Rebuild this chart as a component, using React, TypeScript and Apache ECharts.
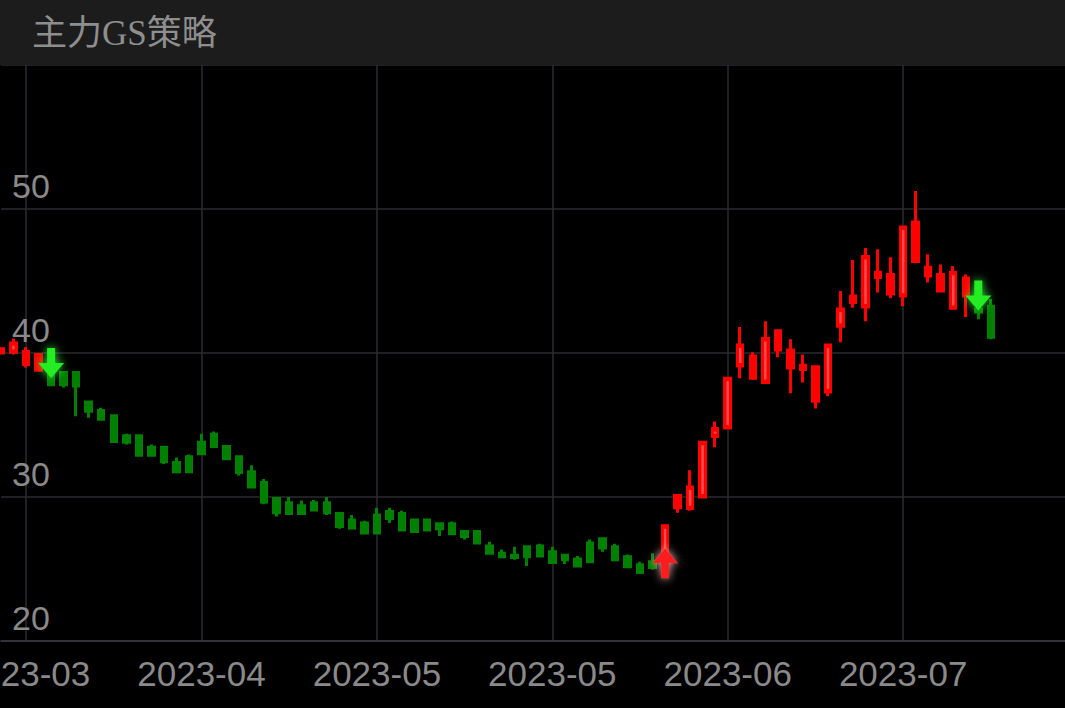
import React, { useEffect, useRef } from 'react';
import * as echarts from 'echarts';

const titleText = '主力GS策略';

const dates = [
  '2023-03-17', '2023-03-20', '2023-03-21', '2023-03-22', '2023-03-23', '2023-03-24', '2023-03-27', '2023-03-28',
  '2023-03-29', '2023-03-30', '2023-03-31', '2023-04-03', '2023-04-04', '2023-04-06', '2023-04-07', '2023-04-10',
  '2023-04-11', '2023-04-12', '2023-04-13', '2023-04-14', '2023-04-17', '2023-04-18', '2023-04-19', '2023-04-20',
  '2023-04-21', '2023-04-24', '2023-04-25', '2023-04-26', '2023-04-27', '2023-04-28', '2023-05-04', '2023-05-05',
  '2023-05-08', '2023-05-09', '2023-05-10', '2023-05-11', '2023-05-12', '2023-05-15', '2023-05-16', '2023-05-17',
  '2023-05-18', '2023-05-19', '2023-05-22', '2023-05-23', '2023-05-24', '2023-05-25', '2023-05-26', '2023-05-29',
  '2023-05-30', '2023-05-31', '2023-06-01', '2023-06-02', '2023-06-05', '2023-06-06', '2023-06-07', '2023-06-08',
  '2023-06-09', '2023-06-12', '2023-06-13', '2023-06-14', '2023-06-15', '2023-06-16', '2023-06-19', '2023-06-20',
  '2023-06-21', '2023-06-26', '2023-06-27', '2023-06-28', '2023-06-29', '2023-06-30', '2023-07-03', '2023-07-04',
  '2023-07-05', '2023-07-06', '2023-07-07', '2023-07-10', '2023-07-11', '2023-07-12', '2023-07-13', '2023-07-14',
  '2023-07-17', '2023-07-18', '2023-07-19', '2023-07-20', '2023-07-21', '2023-07-24',
];

const opens = [
  40.0, 40.05, 40.1, 39.9, 38.5, 37.8, 38.65, 36.6, 36.0, 35.65,
  34.25, 34.25, 33.45, 33.45, 32.4, 31.75, 33.0, 33.5, 33.5, 32.8,
  31.75, 31.0, 29.9, 28.85, 29.4, 29.6, 28.9, 28.85, 27.85, 28.2,
  27.5, 28.5, 28.85, 28.4, 27.7, 28.15, 27.45, 27.6, 27.6, 26.6,
  26.1, 25.95, 25.85, 26.6, 26.2, 25.95, 25.7, 25.5, 26.45, 26.55,
  25.85, 25.3, 25.1, 25.6, 30.1, 29.2, 30.0, 34.2, 34.8, 39.1,
  39.8, 37.95, 41.55, 40.2, 39.15, 39.05, 37.3, 41.85, 43.5, 43.2,
  45.6, 45.45, 43.95, 49.1, 45.95, 45.45, 43.1, 45.2, 43.05, 43.25,
];
const closes = [
  40.3, 40.7, 39.2, 38.8, 37.8, 38.65, 37.7, 35.95, 35.4, 33.85,
  33.8, 32.9, 32.9, 32.45, 31.75, 32.8, 33.8, 34.35, 32.65, 31.7,
  30.7, 29.65, 28.9, 29.6, 28.85, 29.1, 29.6, 27.95, 28.4, 27.5,
  28.75, 29.0, 27.7, 27.6, 28.4, 27.8, 28.15, 27.25, 26.8, 26.1,
  25.85, 25.8, 26.55, 25.9, 25.45, 25.65, 25.2, 26.8, 27.1, 25.65,
  25.15, 24.75, 25.5, 28.0, 29.25, 30.7, 33.8, 34.75, 38.25, 40.55,
  38.25, 41.0, 40.2, 38.95, 38.85, 36.65, 40.55, 43.05, 43.95, 46.7,
  45.25, 44.1, 48.75, 46.35, 45.35, 44.3, 45.6, 43.95, 42.85, 41.1,
];
const lows = [
  39.9, 39.9, 39.0, 38.7, 37.7, 37.6, 35.6, 35.5, 35.3, 33.85,
  33.65, 32.9, 32.9, 32.3, 31.75, 31.75, 33.0, 33.5, 32.65, 31.5,
  30.65, 29.5, 28.65, 28.85, 28.85, 29.0, 28.75, 27.8, 27.8, 27.5,
  27.5, 28.2, 27.7, 27.6, 27.7, 27.3, 27.4, 27.05, 26.8, 26.1,
  25.85, 25.65, 25.2, 25.9, 25.45, 25.35, 25.1, 25.5, 26.2, 25.65,
  25.1, 24.75, 24.95, 25.3, 28.9, 29.05, 30.0, 33.45, 34.8, 38.25,
  38.25, 37.95, 39.7, 37.2, 37.95, 36.15, 37.0, 40.75, 43.15, 42.2,
  44.2, 43.8, 43.25, 46.35, 44.9, 44.3, 43.1, 42.5, 42.35, 40.95,
];
const highs = [
  40.4, 41.0, 40.4, 40.0, 38.7, 38.7, 38.7, 36.7, 36.2, 35.65,
  34.4, 34.25, 33.65, 33.45, 32.75, 32.95, 34.4, 34.55, 33.5, 32.8,
  32.2, 31.25, 29.9, 30.0, 29.75, 29.8, 30.0, 28.85, 28.75, 28.35,
  29.25, 29.25, 29.05, 28.4, 28.4, 28.15, 28.3, 27.6, 27.65, 26.9,
  26.35, 26.55, 26.55, 26.75, 26.55, 25.95, 25.9, 27.05, 27.15, 26.75,
  26.0, 25.5, 26.1, 28.0, 30.1, 31.85, 33.8, 35.25, 38.25, 41.8,
  40.05, 42.2, 41.55, 40.95, 39.9, 39.05, 40.55, 44.3, 46.45, 47.3,
  47.2, 46.65, 48.75, 51.25, 46.85, 46.15, 46.05, 45.45, 43.8, 43.75,
];

// strategy signals: index of the bar, kind, and price level of the arrow
const signalIndex = [4, 53, 78];
const signalKind = ['sell', 'buy', 'sell'];
const signalPrice = [39.3, 25.4, 44.0];

const yMin = 20;
const yMax = 60;
const yStep = 10;

const RED = '#ff0000';
const RED_LIGHT = '#ff4a4a';
const GREEN = '#008000';
const LABEL = '#8a8a8a';
const GRIDC = '#2a2a31';

const DOWN_ARROW = 'path://M9,0 L17,0 L17,15 L26,15 L13,30 L0,15 L9,15 Z';
const UP_ARROW = 'path://M13,0 L26,15 L17,15 L17,30 L9,30 L9,15 L0,15 Z';

export default function App() {
  const ref = useRef<HTMLDivElement>(null);

  useEffect(() => {
    if (!ref.current) return;
    const chart = echarts.init(ref.current, null, { renderer: 'svg' });

    const phaseAt = (i: number) => {
      let kind = 'buy';
      for (let k = 0; k < signalIndex.length; k++) {
        if (signalIndex[k] <= i) kind = signalKind[k];
      }
      return kind;
    };

    const candleData = dates.map((_, i) => {
      if (i >= opens.length) return '-';
      const c = phaseAt(i) === 'buy' ? RED : GREEN;
      return {
        value: [opens[i], closes[i], lows[i], highs[i]],
        itemStyle: { color: c, color0: c, borderColor: c, borderColor0: c },
      };
    });

    // rising bars during the red (buy) phase show a lighter centre stripe
    const stripeData: number[][] = [];
    for (let i = 0; i < opens.length; i++) {
      if (phaseAt(i) === 'buy' && closes[i] - opens[i] > 0.5) {
        stripeData.push([i, opens[i], closes[i]]);
      }
    }

    const sellData = signalIndex
      .map((idx, k) => ({ idx, k }))
      .filter((s) => signalKind[s.k] === 'sell')
      .map((s) => [s.idx, signalPrice[s.k]]);
    const buyData = signalIndex
      .map((idx, k) => ({ idx, k }))
      .filter((s) => signalKind[s.k] === 'buy')
      .map((s) => [s.idx, signalPrice[s.k]]);

    const labelInterval = (index: number) => index >= 2 && (index - 2) % 14 === 0;

    chart.setOption({
      animation: false,
      backgroundColor: '#000000',
      title: {
        text: titleText,
        left: 32,
        top: 16,
        padding: 0,
        z: 20,
        textStyle: {
          color: '#8e8e8e',
          fontSize: 35,
          fontWeight: 'normal',
          fontFamily: '"Liberation Serif", "Noto Sans CJK SC", serif',
        },
      },
      graphic: [
        {
          type: 'rect',
          z: 10,
          shape: { x: 0, y: 0, width: 1065, height: 65 },
          style: { fill: '#1c1c1c' },
        },
      ],
      grid: { left: 1, width: 1065, top: 65, bottom: 67, containLabel: false, outerBoundsMode: 'none' },
      xAxis: {
        type: 'category',
        data: dates,
        boundaryGap: false,
        axisLine: { show: true, lineStyle: { color: '#3a3a44', width: 1.5 } },
        axisTick: { show: false },
        axisLabel: {
          interval: labelInterval,
          formatter: (v: string) => v.slice(0, 7),
          color: LABEL,
          fontSize: 35,
          fontFamily: '"Liberation Sans", Arial, sans-serif',
          margin: 15,
        },
        splitLine: { show: true, interval: labelInterval, lineStyle: { color: GRIDC, width: 1.5 } },
      },
      yAxis: {
        type: 'value',
        min: yMin,
        max: yMax,
        interval: yStep,
        position: 'left',
        axisLine: { show: false },
        axisTick: { show: false },
        axisLabel: {
          inside: true,
          showMaxLabel: false,
          color: LABEL,
          fontSize: 34,
          fontFamily: '"Liberation Sans", Arial, sans-serif',
          margin: 11,
          verticalAlign: 'bottom',
          padding: [0, 0, 6, 0],
        },
        splitLine: { show: true, lineStyle: { color: GRIDC, width: 1.5 } },
      },
      series: [
        {
          type: 'candlestick',
          data: candleData,
          barWidth: 6,
          itemStyle: { borderWidth: 3 },
          z: 2,
        },
        {
          type: 'custom',
          data: stripeData,
          z: 3,
          silent: true,
          renderItem: (params: any, api: any) => {
            const top = api.coord([api.value(0), api.value(2)]);
            const bottom = api.coord([api.value(0), api.value(1)]);
            return {
              type: 'rect',
              shape: { x: top[0] - 1.25, y: top[1] + 3, width: 2.5, height: Math.max(0, bottom[1] - top[1] - 6) },
              style: { fill: RED_LIGHT },
            };
          },
        },
        {
          type: 'scatter',
          data: sellData,
          symbol: DOWN_ARROW,
          symbolSize: [26, 30],
          z: 5,
          itemStyle: {
            color: '#22ee22',
            shadowBlur: 10,
            shadowColor: 'rgba(60,255,60,0.9)',
            opacity: 1,
          },
        },
        {
          type: 'scatter',
          data: buyData,
          symbol: UP_ARROW,
          symbolSize: [26, 30],
          z: 5,
          itemStyle: {
            color: '#ff1a1a',
            shadowBlur: 10,
            shadowColor: 'rgba(255,190,190,0.95)',
            opacity: 1,
          },
        },
      ],
    });

    return () => chart.dispose();
  }, []);

  return (
    <div
      ref={ref}
      style={{ position: 'absolute', left: 0, top: 0, width: 1065, height: 708, background: '#000' }}
    />
  );
}
